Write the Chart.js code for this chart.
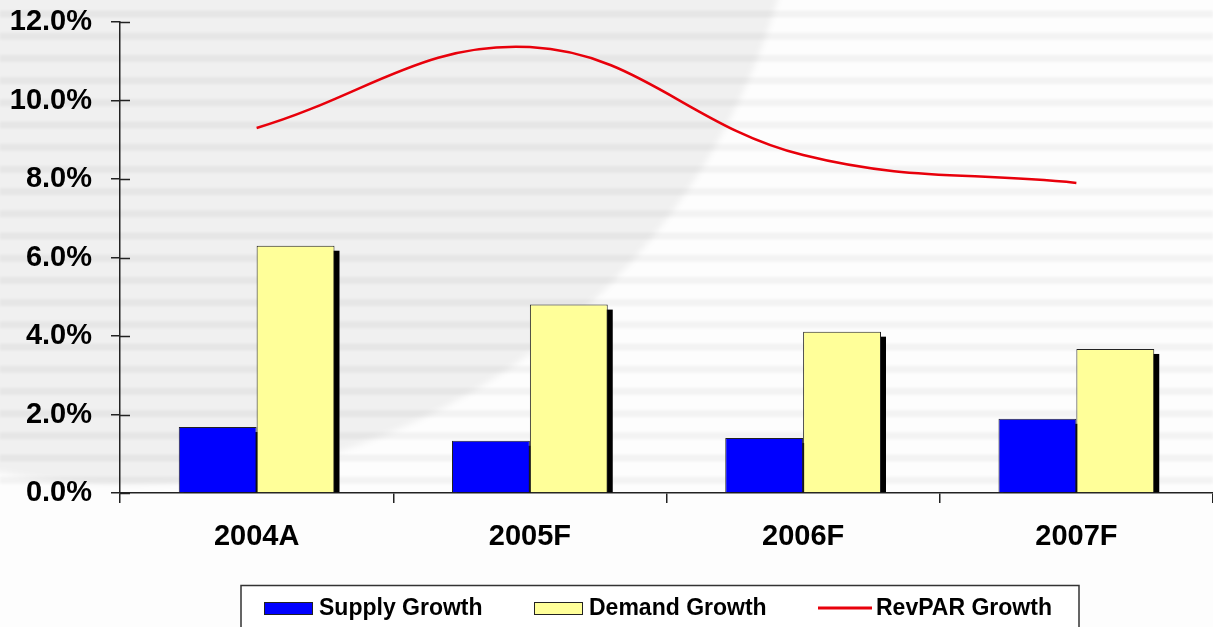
<!DOCTYPE html>
<html>
<head>
<meta charset="utf-8">
<script src="https://cdn.jsdelivr.net/npm/chart.js@4.4.1/dist/chart.umd.min.js"></script>
<style>
  html, body { margin: 0; padding: 0; background: #ffffff; }
  #wrap { width: 1213px; height: 627px; position: relative; }
</style>
</head>
<body>
<div id="wrap"><canvas id="chart" width="1213" height="627"></canvas></div>
<script>
// Hotel market growth rates (%)
const years = ['2004A', '2005F', '2006F', '2007F'];
const supplyGrowth = [1.68, 1.33, 1.40, 1.89];
const demandGrowth = [6.30, 4.80, 4.11, 3.67];
const revparGrowth = [9.30, 11.36, 8.61, 7.90];
const yTickValues = [0, 2, 4, 6, 8, 10, 12];

const FONT = 'Liberation Sans';
const AXIS = '#222222';

// Soft striped backdrop with a large pale disc on the left
const backdrop = {
  id: 'backdrop',
  beforeDraw(chart) {
    const ctx = chart.ctx;
    const W = chart.width;
    const bottom = chart.chartArea.bottom - 2;
    ctx.save();
    ctx.fillStyle = '#fdfdfd';
    ctx.fillRect(0, 0, W, chart.height);
    ctx.beginPath();
    ctx.rect(0, 0, W, bottom);
    ctx.clip();
    ctx.filter = 'blur(3px)';
    ctx.fillStyle = 'rgba(0,0,0,0.05)';
    ctx.beginPath();
    ctx.arc(130, -190, 675, 0, Math.PI * 2);
    ctx.fill();
    ctx.filter = 'blur(1px)';
    ctx.fillStyle = 'rgba(0,0,0,0.04)';
    for (let y = 10.5; y < bottom; y += 22.2) {
      ctx.fillRect(0, y, W, 7);
    }
    ctx.restore();
  }
};

// Drop shadow behind each bar
const barShadow = {
  id: 'barShadow',
  beforeDatasetsDraw(chart) {
    const ctx = chart.ctx;
    ctx.save();
    ctx.fillStyle = '#000000';
    chart.data.datasets.forEach((ds, i) => {
      const meta = chart.getDatasetMeta(i);
      if (meta.type !== 'bar') return;
      meta.data.forEach(bar => {
        const left = bar.x - bar.width / 2 + 5;
        const top = bar.y + 5;
        const h = bar.base - top;
        if (h > 0) ctx.fillRect(left, top, bar.width, h);
      });
    });
    ctx.restore();
  }
};

// Y tick marks that cross the axis line
const crossTicks = {
  id: 'crossTicks',
  afterDatasetsDraw(chart) {
    const ctx = chart.ctx;
    const ys = chart.scales.y;
    const x0 = chart.chartArea.left;
    ctx.save();
    ctx.strokeStyle = AXIS;
    ctx.lineWidth = 1.5;
    ys.ticks.forEach((t, i) => {
      const y = Math.round(ys.getPixelForTick(i)) + 0.5;
      ctx.beginPath();
      ctx.moveTo(x0, y);
      ctx.lineTo(x0 + 10, y);
      ctx.stroke();
    });
    ctx.restore();
  }
};

// Boxed legend along the bottom
const boxLegend = {
  id: 'boxLegend',
  afterDraw(chart) {
    const ctx = chart.ctx;
    const slots = [264, 534, 818];
    ctx.save();
    ctx.fillStyle = '#ffffff';
    ctx.fillRect(241, 585, 838, 60);
    ctx.strokeStyle = '#333333';
    ctx.lineWidth = 1.5;
    ctx.strokeRect(241, 585.5, 838, 60);
    ctx.font = 'bold 23px "' + FONT + '"';
    ctx.textBaseline = 'alphabetic';
    ctx.textAlign = 'left';
    chart.data.datasets.forEach((ds, i) => {
      const x = slots[i];
      if (ds.type === 'line') {
        ctx.strokeStyle = ds.borderColor;
        ctx.lineWidth = 3;
        ctx.beginPath();
        ctx.moveTo(x, 608);
        ctx.lineTo(x + 54, 608);
        ctx.stroke();
        ctx.fillStyle = '#000';
        ctx.fillText(ds.label, x + 58, 615);
      } else {
        ctx.fillStyle = ds.backgroundColor;
        ctx.fillRect(x, 602, 48, 12);
        ctx.strokeStyle = '#222';
        ctx.lineWidth = 1;
        ctx.strokeRect(x + 0.5, 602.5, 48, 12);
        ctx.fillStyle = '#000';
        ctx.fillText(ds.label, x + 55, 615);
      }
    });
    ctx.restore();
  }
};

const tickFont = { family: FONT, size: 29, weight: 'bold' };

new Chart(document.getElementById('chart'), {
  data: {
    labels: years,
    datasets: [
      {
        type: 'bar',
        label: 'Supply Growth',
        data: supplyGrowth,
        backgroundColor: '#0000ff',
        borderColor: '#222222',
        borderWidth: 1,
        order: 1
      },
      {
        type: 'bar',
        label: 'Demand Growth',
        data: demandGrowth,
        backgroundColor: '#ffff99',
        borderColor: '#222222',
        borderWidth: 1,
        order: 1
      },
      {
        type: 'line',
        label: 'RevPAR Growth',
        data: revparGrowth,
        borderColor: '#e8000b',
        borderWidth: 2.5,
        pointRadius: 0,
        tension: 0.4,
        fill: false,
        order: 0
      }
    ]
  },
  options: {
    responsive: false,
    animation: false,
    devicePixelRatio: 1,
    layout: { padding: { top: 22, right: 0, left: 0, bottom: 0 } },
    datasets: { bar: { barPercentage: 1, categoryPercentage: 0.57 } },
    plugins: {
      legend: { display: false },
      tooltip: { enabled: false }
    },
    scales: {
      x: {
        offset: true,
        border: { display: true, color: AXIS, width: 1.5 },
        grid: { offset: true, drawOnChartArea: false, drawTicks: true, tickLength: 10, color: AXIS, lineWidth: 1.5 },
        ticks: { padding: 17, color: '#000', font: tickFont },
        afterFit(s) { s.height = 134; s.paddingLeft = 0; s.paddingRight = 0; }
      },
      y: {
        min: 0,
        max: 12,
        afterBuildTicks(s) { s.ticks = yTickValues.map(v => ({ value: v })); },
        border: { display: true, color: AXIS, width: 1.5 },
        grid: { drawOnChartArea: false, drawTicks: true, tickLength: 9, color: AXIS, lineWidth: 1.5 },
        ticks: {
          padding: 19,
          color: '#000',
          font: tickFont,
          callback: v => v.toFixed(1) + '%'
        },
        afterFit(s) { s.width = 120; s.paddingTop = 0; s.paddingBottom = 0; }
      }
    }
  },
  plugins: [backdrop, barShadow, crossTicks, boxLegend]
});
</script>
</body>
</html>
